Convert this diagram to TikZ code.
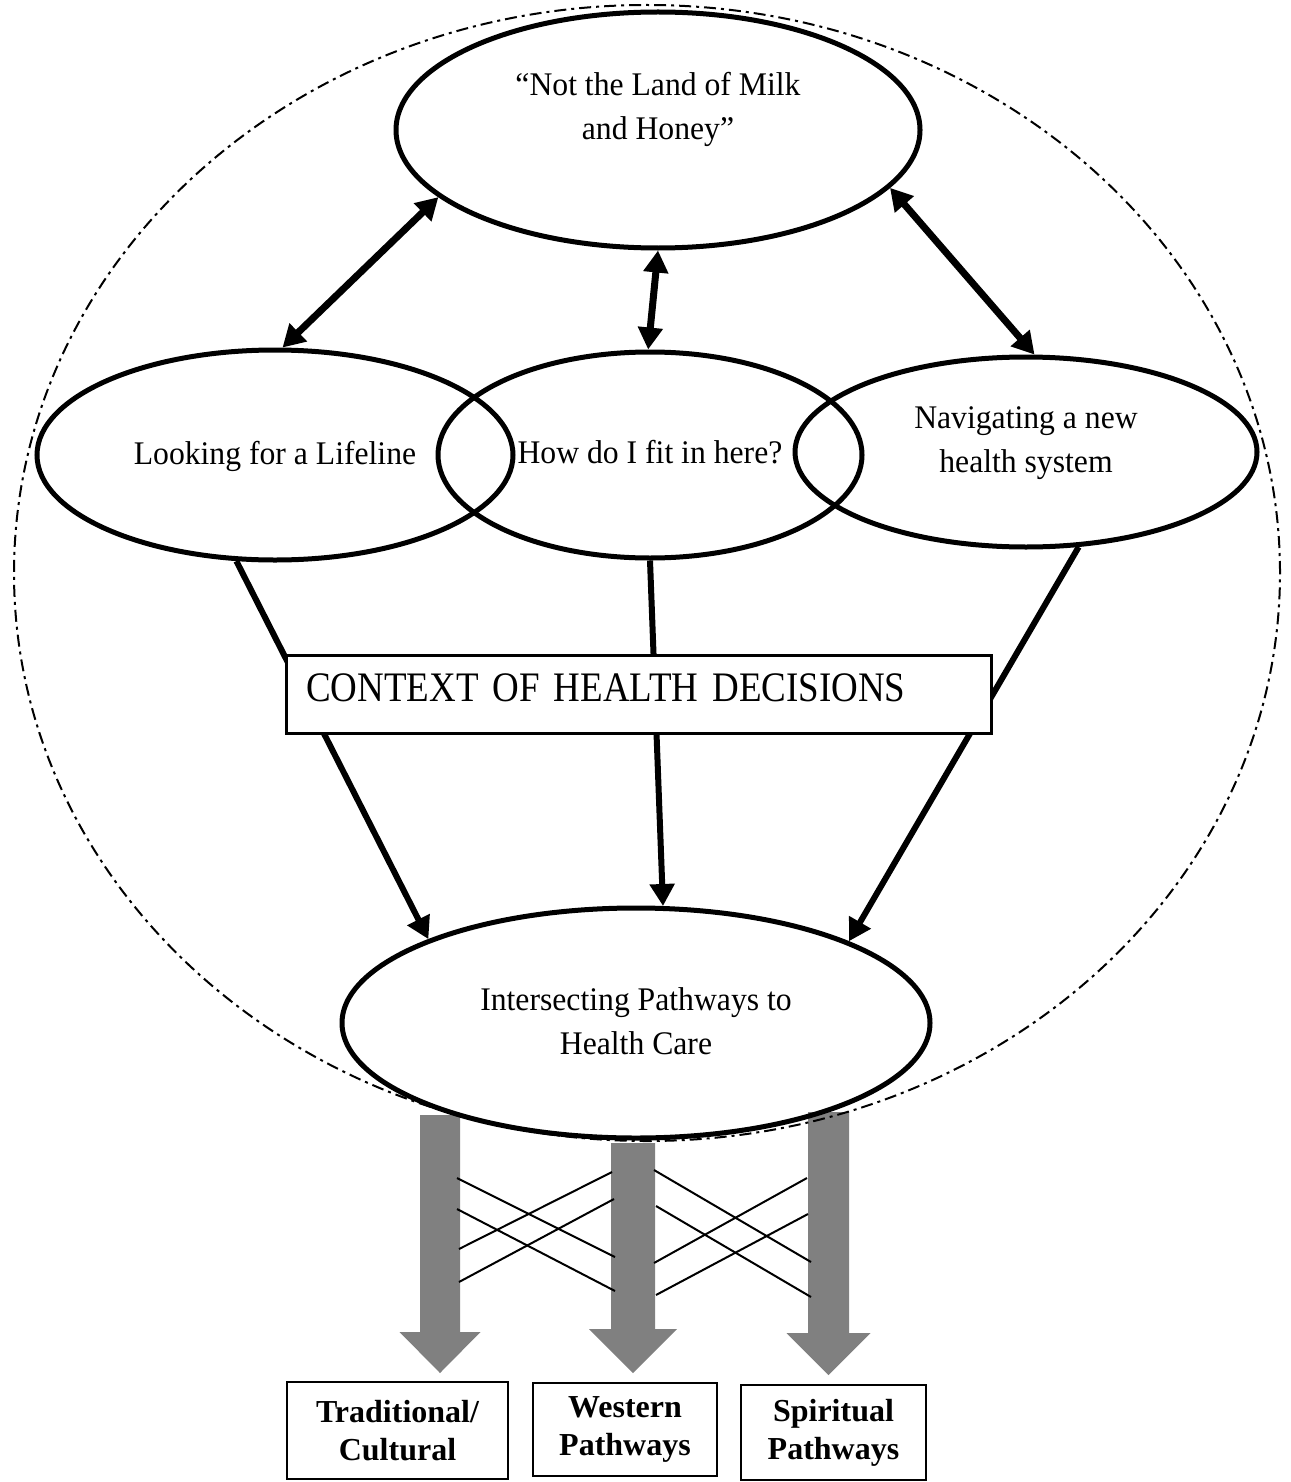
\documentclass[tikz,border=0pt]{standalone}
\usepackage{fontspec}
\setmainfont{Liberation Serif}
\newfontfamily\ctxfont{Liberation Serif}[FakeStretch=0.88,WordSpace=0.7]
\usetikzlibrary{shapes.geometric,arrows.meta}

\newcommand{\ovaltext}[2]{\raisebox{#1}[0pt][0pt]{\begin{tabular}[b]{@{}c@{}}#2\end{tabular}}}

\begin{document}
\begin{tikzpicture}[
  x=1pt, y=-1pt,
  theme_oval/.style={ellipse, draw, line width=5pt, inner sep=0pt, font=\fontsize{33}{44}\selectfont\addfontfeatures{FakeStretch=0.96}},
  outer_oval/.style={ellipse, draw, line width=2pt, inner sep=0pt, dash pattern=on 12pt off 5pt on 3pt off 5pt},
  ctx_box/.style={rectangle, draw, fill=white, line width=2.5pt, text width=665pt, inner xsep=20pt, inner ysep=0pt, minimum height=78pt, align=left, text height=30pt, text depth=16pt, font=\ctxfont\fontsize{42}{48}\selectfont},
  path_box/.style={rectangle, draw, line width=2.5pt, inner sep=0pt, align=center, font=\bfseries\fontsize{32}{38}\selectfont},
  two_way/.style={{Triangle[length=22pt,width=24pt]}-{Triangle[length=22pt,width=24pt]}, line width=7pt},
  one_way/.style={-{Triangle[length=22pt,width=24pt]}, line width=6pt},
  cross_line/.style={line width=2pt},
]
\useasboundingbox (0,0) rectangle (1290,1482);

\foreach \cx/\hw/\ytop/\hh/\yh/\ytip in {440/20/1115/40.5/1332/1373, 633/22/1143/44/1329/1373, 828.5/20.5/1112/42/1333/1375}
  \fill[gray] (\cx-\hw,\ytop) -- (\cx+\hw,\ytop) -- (\cx+\hw,\yh) -- (\cx+\hh,\yh)
    -- (\cx,\ytip) -- (\cx-\hh,\yh) -- (\cx-\hw,\yh) -- cycle;

\foreach \xa/\ya/\xb/\yb in {457/1178/615/1257, 457/1209/615/1291, 459/1249/612/1172, 459/1282/614/1199,
  654/1170/811/1262, 656/1206/811/1297, 654/1263/807/1178, 656/1295/808/1214}
  \draw [cross_line] (\xa,\ya) -- (\xb,\yb);

\draw (647,573) node (O) [outer_oval, minimum width=1266pt, minimum height=1136pt] {};

\draw (658,130) node (T) [theme_oval, minimum width=524pt, minimum height=236pt] {\ovaltext{-10pt}{``Not the Land of Milk\\and Honey''}};
\draw (275,455) node (L) [theme_oval, minimum width=476pt, minimum height=210pt] {\ovaltext{-9pt}{Looking for a Lifeline}};
\draw (650,455) node (M) [theme_oval, minimum width=424pt, minimum height=206pt] {\ovaltext{-8pt}{How do I fit in here?}};
\draw (1026,452) node (R) [theme_oval, minimum width=462pt, minimum height=190pt] {\ovaltext{-20pt}{Navigating a new\\health system}};
\draw (636,1023) node (B) [theme_oval, minimum width=588pt, minimum height=230pt] {\ovaltext{-31pt}{Intersecting Pathways to\\Health Care}};

\draw [two_way] (T.197) -- (L.86);
\draw [two_way] (T.270) -- (M.91);
\draw [two_way] (T.346) -- (R.85);
\draw [one_way] (L.250) -- (B.158);
\draw [one_way] (M.270) -- (B.77);
\draw [one_way] (R.299) -- (B.21);

\draw (285,654) node (C) [ctx_box, anchor=north west] {CONTEXT OF HEALTH DECISIONS};

\draw (397.5,1430.5) node (P1) [path_box, minimum width=221pt, minimum height=97pt] {Traditional/\\Cultural};
\draw (625,1429.5) node (P2) [path_box, minimum width=184pt, minimum height=93pt] {Western\\Pathways};
\draw (833.5,1432.5) node (P3) [path_box, minimum width=185pt, minimum height=95pt] {Spiritual\\Pathways};
\end{tikzpicture}
\end{document}
